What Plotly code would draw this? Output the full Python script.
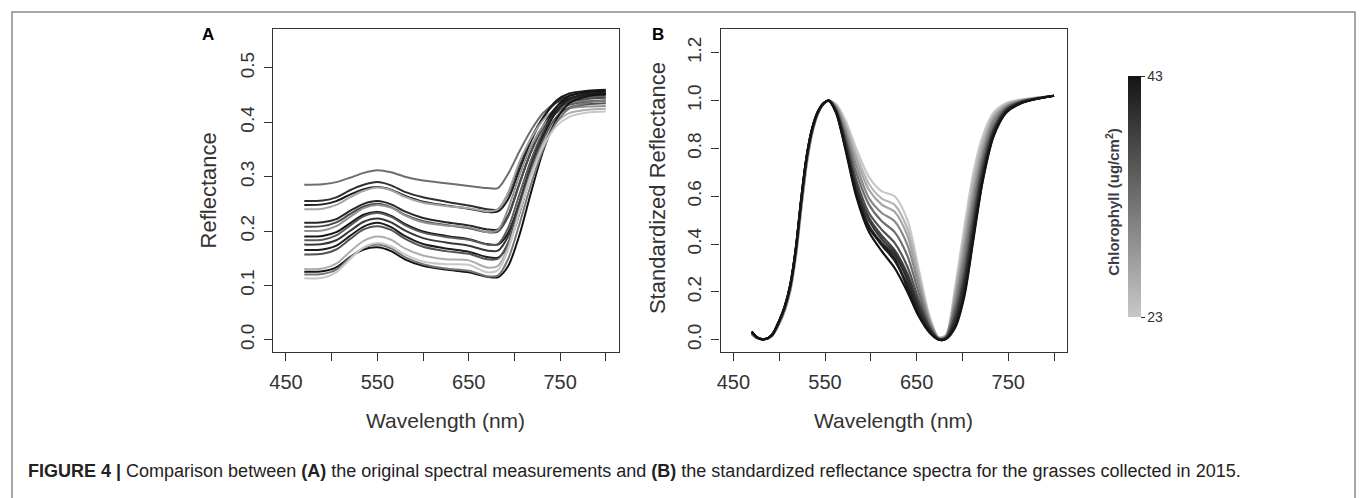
import plotly.graph_objects as go

# ---------------- data ----------------
wl_a = [470, 490, 505, 520, 535, 550, 565, 580, 600, 625, 650, 670, 682, 693, 705, 718, 732, 746, 760, 780, 800]

chl_a = [33, 40, 42, 27, 41, 37, 29, 43, 35, 39, 42, 36, 26, 43, 32, 23]

spec_a_01 = [.285, .286, .290, .298, .307, .312, .308, .300, .293, .288, .283, .279, .279, .305, .345, .385, .418, .436, .443, .446, .447]
spec_a_02 = [.255, .256, .262, .275, .285, .290, .284, .272, .262, .254, .247, .240, .240, .268, .320, .370, .410, .437, .449, .454, .456]
spec_a_03 = [.248, .249, .255, .267, .277, .281, .276, .265, .254, .247, .241, .235, .236, .258, .310, .365, .410, .440, .453, .458, .460]
spec_a_04 = [.240, .241, .248, .262, .274, .280, .275, .263, .252, .246, .242, .236, .240, .270, .325, .370, .405, .425, .435, .439, .440]
spec_a_05 = [.215, .216, .222, .237, .250, .255, .249, .236, .224, .216, .210, .203, .203, .228, .285, .345, .395, .428, .444, .450, .452]
spec_a_06 = [.208, .209, .216, .231, .245, .250, .244, .230, .218, .211, .205, .198, .199, .226, .285, .345, .393, .423, .437, .443, .445]
spec_a_07 = [.200, .201, .209, .226, .242, .248, .243, .229, .216, .210, .207, .198, .202, .240, .300, .355, .395, .417, .426, .429, .430]
spec_a_08 = [.190, .191, .198, .214, .230, .235, .228, .213, .199, .191, .185, .176, .175, .196, .250, .320, .385, .428, .448, .456, .458]
spec_a_09 = [.183, .184, .192, .210, .227, .233, .226, .211, .197, .189, .184, .175, .176, .205, .265, .330, .385, .418, .432, .438, .440]
spec_a_10 = [.175, .176, .183, .200, .217, .223, .216, .201, .187, .179, .173, .164, .164, .190, .250, .320, .380, .420, .440, .448, .450]
spec_a_11 = [.165, .166, .173, .191, .208, .215, .207, .191, .176, .168, .162, .152, .151, .173, .230, .305, .375, .420, .443, .452, .455]
spec_a_12 = [.157, .158, .166, .185, .203, .209, .202, .186, .171, .163, .158, .148, .149, .178, .240, .310, .370, .410, .427, .433, .435]
spec_a_13 = [.130, .131, .140, .162, .182, .190, .184, .168, .155, .148, .146, .133, .136, .170, .235, .305, .363, .400, .417, .423, .425]
spec_a_14 = [.125, .126, .133, .152, .166, .170, .163, .148, .136, .129, .124, .116, .115, .135, .190, .270, .350, .405, .435, .448, .452]
spec_a_15 = [.120, .121, .129, .151, .169, .175, .168, .152, .139, .131, .127, .117, .118, .148, .210, .285, .353, .400, .425, .436, .440]
spec_a_16 = [.113, .114, .124, .148, .170, .178, .172, .157, .144, .139, .138, .124, .128, .165, .232, .300, .357, .393, .410, .418, .420]

spectra_a = [spec_a_01, spec_a_02, spec_a_03, spec_a_04, spec_a_05, spec_a_06, spec_a_07, spec_a_08,
             spec_a_09, spec_a_10, spec_a_11, spec_a_12, spec_a_13, spec_a_14, spec_a_15, spec_a_16]

wl_b = [470, 476, 484, 492, 500, 506, 512, 518, 524, 530, 536, 542, 548, 554,
        562, 572, 584, 598, 612, 626, 640, 652, 664, 674, 682, 692, 702, 712, 722, 734, 748, 765, 800]

chl_b = [23, 25, 27, 30, 33, 36, 38, 39, 40, 41, 42, 43]

spec_b_01 = [.020, .005, .002, .015, .065, .120, .200, .340, .540, .730, .860, .940, .983, 1.0,
             .985, .920, .800, .680, .620, .600, .500, .300, .100, .010, .020, .220, .470, .700, .850, .950, .990, 1.005, 1.02]
spec_b_02 = [.022, .006, .002, .016, .067, .122, .204, .345, .546, .735, .863, .941, .983, 1.0,
             .981, .906, .776, .651, .590, .564, .464, .276, .092, .009, .018, .200, .435, .665, .826, .938, .985, 1.003, 1.02]
spec_b_03 = [.023, .006, .002, .016, .068, .124, .207, .349, .551, .739, .866, .943, .984, 1.0,
             .977, .894, .756, .626, .565, .535, .434, .256, .085, .008, .016, .183, .406, .637, .806, .929, .981, 1.002, 1.02]
spec_b_04 = [.025, .007, .002, .017, .070, .127, .211, .354, .558, .744, .869, .944, .984, 1.0,
             .973, .878, .730, .592, .530, .495, .395, .230, .076, .006, .014, .160, .369, .601, .780, .917, .976, 1.000, 1.02]
spec_b_05 = [.027, .007, .002, .017, .072, .130, .215, .360, .565, .750, .872, .946, .985, 1.0,
             .967, .860, .700, .565, .495, .450, .350, .200, .065, .005, .012, .135, .325, .560, .755, .900, .970, .998, 1.02]
spec_b_06 = [.030, .008, .002, .018, .075, .133, .219, .366, .572, .756, .876, .948, .985, 1.0,
             .962, .842, .670, .530, .460, .405, .305, .170, .055, .003, .008, .110, .282, .518, .727, .882, .965, .996, 1.02]
spec_b_07 = [.031, .009, .002, .019, .076, .135, .222, .370, .578, .760, .879, .949, .986, 1.0,
             .958, .830, .650, .510, .435, .375, .275, .150, .049, .002, .007, .092, .255, .490, .710, .875, .962, .995, 1.02]
spec_b_08 = [.032, .009, .002, .019, .077, .136, .224, .372, .580, .762, .880, .950, .986, 1.0,
             .957, .826, .640, .500, .420, .365, .265, .145, .046, .002, .006, .085, .245, .475, .700, .870, .960, .994, 1.02]
spec_b_09 = [.033, .009, .002, .019, .078, .137, .225, .374, .583, .764, .881, .950, .986, 1.0,
             .955, .818, .628, .478, .405, .355, .250, .130, .042, .001, .005, .075, .230, .465, .690, .865, .958, .993, 1.02]
spec_b_10 = [.033, .010, .002, .020, .079, .138, .227, .376, .585, .766, .882, .951, .987, 1.0,
             .953, .812, .620, .470, .395, .330, .230, .120, .037, .001, .004, .065, .205, .445, .675, .860, .955, .992, 1.02]
spec_b_11 = [.034, .010, .002, .020, .080, .139, .228, .378, .588, .768, .884, .951, .987, 1.0,
             .951, .806, .612, .468, .400, .340, .215, .108, .033, .000, .004, .058, .190, .430, .665, .855, .952, .991, 1.02]
spec_b_12 = [.035, .010, .002, .020, .080, .140, .230, .380, .590, .770, .885, .952, .987, 1.0,
             .950, .800, .600, .450, .370, .300, .200, .100, .030, .000, .003, .050, .180, .420, .660, .850, .950, .990, 1.02]

spectra_b = [spec_b_01, spec_b_02, spec_b_03, spec_b_04, spec_b_05, spec_b_06,
             spec_b_07, spec_b_08, spec_b_09, spec_b_10, spec_b_11, spec_b_12]

x_ticks = [450, 500, 550, 600, 650, 700, 750, 800]
x_tick_text = ["450", "", "550", "", "650", "", "750", ""]
y_ticks_a = [0.0, 0.1, 0.2, 0.3, 0.4, 0.5]
y_tick_text_a = ["0.0", "0.1", "0.2", "0.3", "0.4", "0.5"]
y_ticks_b = [0.0, 0.2, 0.4, 0.6, 0.8, 1.0, 1.2]
y_tick_text_b = ["0.0", "0.2", "0.4", "0.6", "0.8", "1.0", "1.2"]
chl_min, chl_max = 23, 43

# ---------------- layout helpers ----------------
W, H = 1360, 498
def fx(px):
    return px / W
def fy(py):
    return 1 - py / H

LIGHT, DARK = 200, 20
def grey(c):
    t = (c - chl_min) / (chl_max - chl_min)
    g = int(round(LIGHT + (DARK - LIGHT) * t))
    return f"rgb({g},{g},{g})"

FONT = "Liberation Sans, Arial, sans-serif"
TXT = "#333333"

fig = go.Figure()

for c, s in zip(chl_a, spectra_a):
    fig.add_trace(go.Scatter(x=wl_a, y=s, mode="lines",
                             line=dict(color=grey(c), width=2, shape="spline", smoothing=0.8),
                             xaxis="x", yaxis="y", showlegend=False, hoverinfo="skip"))

for c, s in zip(chl_b, spectra_b):
    fig.add_trace(go.Scatter(x=wl_b, y=s, mode="lines",
                             line=dict(color=grey(c), width=2.2, shape="spline", smoothing=0.8),
                             xaxis="x2", yaxis="y2", showlegend=False, hoverinfo="skip"))

# colour bar
cbar = dict(thickness=13, thicknessmode="pixels", len=241, lenmode="pixels",
            x=fx(1127), xanchor="left", y=fy(196.5), yanchor="middle",
            outlinewidth=0, xpad=0, ypad=0,
            tickvals=[chl_min, chl_max], ticktext=[str(chl_min), str(chl_max)],
            ticks="outside", ticklen=4, tickcolor=TXT,
            tickfont=dict(family=FONT, size=14, color=TXT))
fig.add_trace(go.Scatter(x=[None], y=[None], mode="markers", xaxis="x2", yaxis="y2", showlegend=False,
                         marker=dict(color=[chl_min], cmin=chl_min, cmax=chl_max,
                                     colorscale=[[0, grey(chl_min)], [1, grey(chl_max)]],
                                     showscale=True, colorbar=cbar)))

xa = dict(range=[436, 814], tickmode="array", tickvals=x_ticks, ticktext=x_tick_text, ticks="outside", ticklen=8,
          tickwidth=1.2, tickcolor=TXT, showline=True, linecolor=TXT, linewidth=1.2, mirror=True, showgrid=False,
          zeroline=False, tickfont=dict(family=FONT, size=20, color=TXT), ticklabelstandoff=4, fixedrange=True)
ya = dict(tickmode="array", ticks="outside", ticklen=8, tickwidth=1.2, tickcolor=TXT, showline=True, linecolor=TXT,
          linewidth=1.2, mirror=True, showgrid=False, zeroline=False, tickangle=-90,
          tickfont=dict(family=FONT, size=19, color=TXT), ticklabelstandoff=3, fixedrange=True)

fig.update_layout(
    width=W, height=H, margin=dict(l=0, r=0, t=0, b=0),
    paper_bgcolor="white", plot_bgcolor="white", showlegend=False,
    xaxis=dict(xa, domain=[fx(270), fx(616.4)], anchor="y"),
    yaxis=dict(ya, domain=[fy(351.7), fy(28.8)], anchor="x", range=[-0.022, 0.572],
               tickvals=y_ticks_a, ticktext=y_tick_text_a),
    xaxis2=dict(xa, domain=[fx(718.7), fx(1066)], anchor="y2"),
    yaxis2=dict(ya, domain=[fy(351.7), fy(28.8)], anchor="x2", range=[-0.05, 1.3],
                tickvals=y_ticks_b, ticktext=y_tick_text_b),
)

def ann(text, x, y, size, angle=0, bold=False, xanchor="center", color=TXT):
    fig.add_annotation(text=f"<b>{text}</b>" if bold else text, x=fx(x), y=fy(y), xref="paper", yref="paper",
                       showarrow=False, textangle=angle, xanchor=xanchor, yanchor="middle",
                       font=dict(family=FONT, size=size, color=color))

ann("Reflectance", 205, 190, 22, angle=-90)
ann("Standardized Reflectance", 655, 188, 22, angle=-90)
ann("Wavelength (nm)", 443, 420, 21)
ann("Wavelength (nm)", 892, 420, 21)
ann("A", 205, 35, 17, bold=True, color="black")
ann("B", 656, 35, 17, bold=True, color="black")
ann("Chlorophyll (ug/cm<sup>2</sup>)", 1112, 202, 15, angle=-90, bold=True, color="#3d3a45")
ann("<b>FIGURE 4 |</b> Comparison between <b>(A)</b> the original spectral measurements and <b>(B)</b> the standardized "
    "reflectance spectra for the grasses collected in 2015.", 22, 471, 18, xanchor="left", color="#222222")

fig.add_shape(type="rect", xref="paper", yref="paper", x0=fx(8), x1=fx(1355), y0=-0.1, y1=fy(12),
              line=dict(color="#8a8a8a", width=1.5), fillcolor="rgba(0,0,0,0)", layer="above")

fig.write_html("out.html")
